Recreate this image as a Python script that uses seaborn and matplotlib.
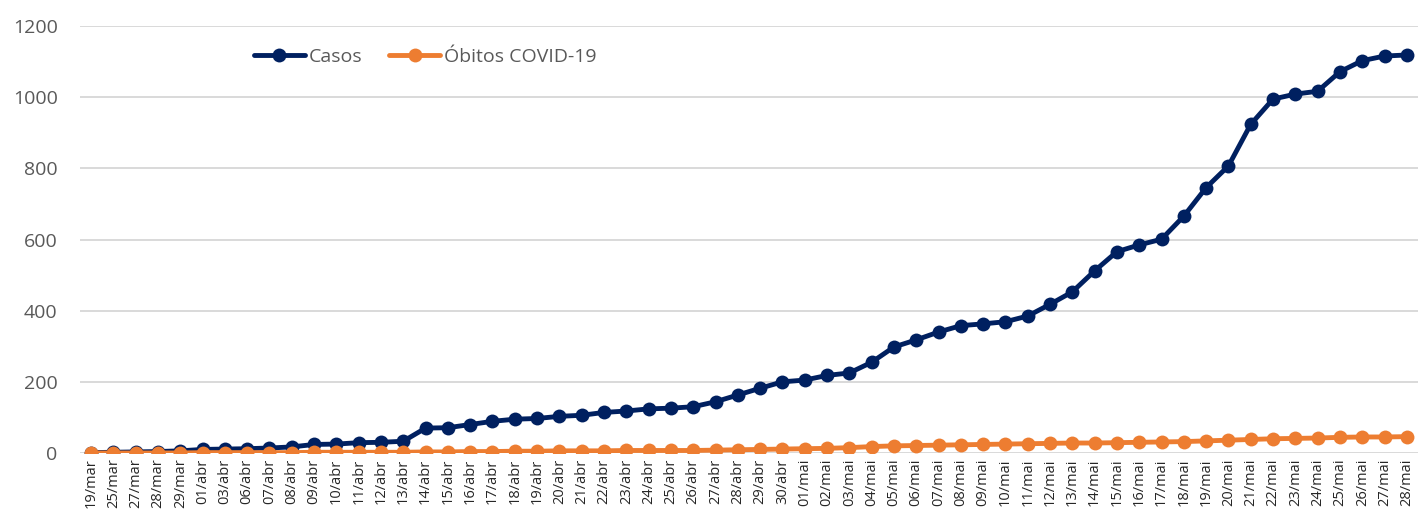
import matplotlib
matplotlib.use("Agg")
import matplotlib.pyplot as plt
import pandas as pd
import seaborn as sns

# dates as shown on the axis
datas = (
    ["19/mar", "25/mar", "27/mar", "28/mar", "29/mar",
     "01/abr", "03/abr", "06/abr", "07/abr", "08/abr", "09/abr", "10/abr",
     "11/abr", "12/abr", "13/abr"]
    + [f"{d}/abr" for d in range(14, 31)]
    + [f"{d:02d}/mai" for d in range(1, 29)]
)

casos = [
    1, 2, 3, 4, 6, 10, 11, 12, 14, 17, 24, 25, 29, 30, 33,
    70, 71, 80, 89, 95, 97, 103, 106, 114, 118, 124, 126, 130, 144, 163, 182, 200,
    205, 218, 225, 255, 298, 318, 340, 358, 363, 369, 385, 418, 453, 512,
    566, 585, 601, 666, 746, 807, 924, 995, 1009, 1017, 1072, 1103, 1116, 1119,
]

obitos = [
    0, 0, 0, 0, 0, 1, 1, 1, 1, 1, 2, 2, 2, 2, 2,
    3, 3, 4, 4, 5, 5, 6, 6, 6, 7, 7, 7, 7, 8, 9, 10, 11,
    12, 13, 15, 18, 20, 21, 22, 23, 24, 25, 26, 27, 28, 28,
    29, 30, 31, 32, 34, 36, 38, 40, 41, 42, 44, 45, 45, 46,
]

series = ["Casos", "Óbitos COVID-19"]
cores = {"Casos": "#002060", "Óbitos COVID-19": "#ED7D31"}

df = pd.concat([
    pd.DataFrame({"idx": range(len(datas)), "valor": casos, "serie": series[0]}),
    pd.DataFrame({"idx": range(len(datas)), "valor": obitos, "serie": series[1]}),
])

sns.set_style("white")
plt.rcParams["font.family"] = ["Open Sans", "DejaVu Sans"]

fig = plt.figure(figsize=(14.27, 5.13), dpi=100)
ax = fig.add_axes([0.056, 0.117, 0.9377, 0.832])

sns.lineplot(
    data=df, x="idx", y="valor", hue="serie", hue_order=series,
    palette=cores, marker="o", markersize=10, markeredgewidth=0,
    linewidth=3.5, ax=ax,
)

ax.set_xlim(-0.5, len(datas) - 0.5)
ax.set_ylim(0, 1200)
ax.set_yticks(range(0, 1201, 200))
ax.set_xticks(range(len(datas)))
ax.set_xticklabels(datas, rotation=90, fontsize=10.5, color="#262626")
ax.tick_params(axis="y", labelsize=14, labelcolor="#595959", length=0, pad=16)
ax.tick_params(axis="x", length=0, pad=4)
ax.grid(axis="y", color="#D9D9D9", linewidth=1.4)
ax.set_axisbelow(True)
for s in ax.spines.values():
    s.set_visible(False)
ax.set_xlabel("")
ax.set_ylabel("")

ax.legend(
    loc="upper left", bbox_to_anchor=(0.117, 0.99), ncol=2, frameon=False,
    fontsize=14, labelcolor="#595959", handlelength=2.6, columnspacing=1.4,
    handletextpad=0.2, title=None,
)

fig.savefig("out.png", dpi=100)
